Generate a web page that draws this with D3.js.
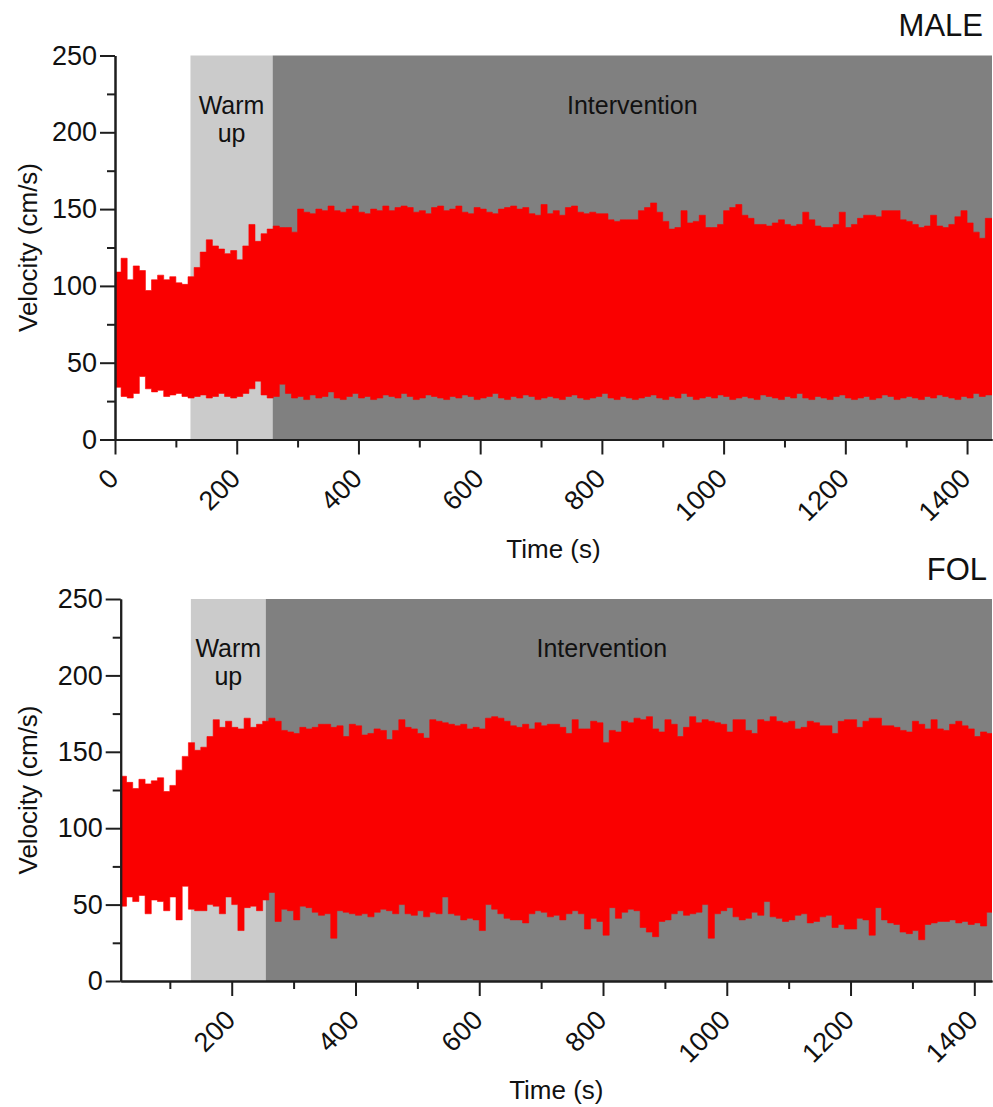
<!DOCTYPE html>
<html>
<head>
<meta charset="utf-8">
<script src="https://cdn.jsdelivr.net/npm/d3@7"></script>
<style>
  body { margin: 0; background: #fff; }
  text { font-family: "Liberation Sans", Arial, sans-serif; fill: #111; }
</style>
</head>
<body>
<script>
// Envelope of the velocity trace in 10 s bins (cm/s).
// MALE starts at t = 0 s, FOL at t = 20 s.
var binSeconds = 10;

var maleStart = 0;
var maleHigh = [
  109, 118, 104, 113, 110, 97, 104, 107, 104, 106, 102, 101,
  106, 112, 122, 130, 126, 124, 121, 123, 117, 126, 140, 129,
  134, 137, 139, 138, 138, 135, 150, 148, 147, 150, 149, 152,
  149, 148, 150, 152, 148, 147, 150, 149, 152, 149, 151, 152,
  151, 148, 149, 147, 151, 152, 149, 150, 152, 148, 147, 151,
  150, 148, 147, 150, 151, 152, 150, 151, 147, 146, 153, 147,
  149, 146, 151, 152, 148, 147, 148, 147, 147, 143, 142, 143,
  143, 143, 149, 151, 154, 148, 142, 137, 138, 149, 141, 142,
  146, 138, 138, 140, 149, 151, 153, 146, 144, 140, 140, 139,
  141, 143, 140, 139, 140, 148, 143, 139, 138, 138, 140, 148,
  138, 140, 144, 146, 146, 145, 149, 149, 149, 143, 142, 140,
  138, 139, 146, 139, 138, 140, 145, 149, 141, 135, 131, 144];
var maleLow = [
  34, 28, 27, 30, 41, 33, 31, 32, 28, 29, 30, 28, 27,
  28, 29, 27, 28, 30, 28, 27, 28, 30, 33, 38, 29, 27,
  28, 36, 30, 27, 28, 26, 29, 27, 28, 31, 27, 26, 28, 30, 27,
  28, 26, 27, 29, 28, 27, 30, 28, 26, 27, 29, 28, 27, 26, 28,
  27, 29, 28, 26, 27, 28, 30, 27, 26, 28, 27, 29, 28, 26, 27,
  28, 27, 26, 28, 29, 27, 26, 27, 28, 30, 27, 26, 28, 27, 26,
  27, 28, 29, 27, 26, 28, 27, 30, 28, 26, 27, 28, 27, 29, 28,
  26, 27, 28, 27, 26, 29, 28, 27, 26, 28, 27, 30, 27, 26, 28,
  27, 26, 28, 29, 27, 26, 27, 28, 26, 27, 29, 28, 26, 27, 28,
  27, 26, 28, 27, 29, 28, 27, 26, 28, 27, 30, 28, 29];

var folStart = 20;
var folHigh = [
  134, 130, 126, 132, 129, 131, 133, 124, 128, 138, 147, 156,
  151, 153, 160, 171, 166, 170, 166, 165, 172, 166, 168, 170,
  172, 170, 164, 163, 162, 166, 165, 166, 168, 168, 166, 167,
  160, 168, 167, 161, 162, 165, 164, 158, 164, 171, 166, 165,
  162, 159, 171, 170, 169, 168, 167, 168, 165, 166, 165, 172,
  173, 172, 170, 167, 166, 168, 165, 169, 167, 168, 168,
  166, 162, 171, 165, 165, 170, 169, 156, 164, 163, 170, 169,
  172, 171, 173, 165, 163, 171, 168, 160, 166, 173, 169, 171,
  170, 169, 168, 163, 171, 171, 164, 162, 171, 170, 173, 170,
  169, 170, 165, 166, 170, 169, 167, 167, 162, 170, 171, 171,
  166, 170, 172, 172, 167, 167, 166, 164, 163, 170, 168, 165,
  171, 165, 164, 168, 170, 167, 165, 160, 163, 162];
var folLow = [
  49, 55, 52, 56, 44, 53, 52, 46, 55, 40, 62, 47,
  46, 46, 50, 49, 44, 55, 50, 33, 48, 49, 46, 53,
  58, 39, 47, 46, 40, 49, 48, 45, 43, 44, 28, 46,
  45, 44, 43, 44, 42, 45, 47, 46, 44, 50, 44, 43,
  46, 42, 45, 44, 55, 44, 43, 40, 41, 40, 33, 50,
  47, 44, 41, 40, 40, 38, 44, 46, 45, 42, 43,
  40, 44, 46, 44, 34, 41, 39, 30, 48, 41, 45, 47,
  46, 35, 32, 29, 39, 40, 44, 46, 43, 44, 45, 50,
  28, 44, 46, 48, 42, 40, 41, 45, 43, 52, 42, 41,
  39, 40, 43, 44, 38, 39, 42, 43, 35, 37, 34, 34,
  41, 40, 30, 48, 40, 38, 37, 32, 31, 33, 27, 37,
  38, 39, 39, 40, 38, 39, 37, 38, 36, 45];

// Phases (s): warm-up start, intervention start
var malePhases = [124, 259];
var folPhases = [134, 255];

var yMajorTicks = [0, 50, 100, 150, 200, 250];
var yMinorTicks = [25, 75, 125, 175, 225];
var maleXMajor = [0, 200, 400, 600, 800, 1000, 1200, 1400];
var folXMajor = [200, 400, 600, 800, 1000, 1200, 1400];
var xMinor = [100, 300, 500, 700, 900, 1100, 1300];

var width = 993, height = 1107;
var red = '#fa0000';
var font = '"Liberation Sans", Arial, sans-serif';

var svg = d3.select('body').append('svg')
  .attr('width', width)
  .attr('height', height);

var panels = [
  { name: 'MALE', start: maleStart, high: maleHigh, low: maleLow, phases: malePhases,
    xMajor: maleXMajor, xDomain: [0, 1441], left: 115, top: 55.5, bottom: 439.5,
    titleX: 983, titleY: 36, interventionLabelT: 850 },
  { name: 'FOL', start: folStart, high: folHigh, low: folLow, phases: folPhases,
    xMajor: folXMajor, xDomain: [20.6, 1428.6], left: 120.7, top: 599, bottom: 981,
    titleX: 987, titleY: 580, interventionLabelT: 798 }
];

panels.forEach(function (p, pi) {
  var x = d3.scaleLinear().domain(p.xDomain).range([p.left, 992]);
  var y = d3.scaleLinear().domain([0, 250]).range([p.bottom, p.top]);
  var g = svg.append('g');

  // Phase bands
  g.append('rect')
    .attr('x', x(p.phases[0]))
    .attr('y', y(250))
    .attr('width', x(p.phases[1]) - x(p.phases[0]))
    .attr('height', y(0) - y(250))
    .attr('fill', '#cbcbcb');
  g.append('rect')
    .attr('x', x(p.phases[1]))
    .attr('y', y(250))
    .attr('width', x.range()[1] - x(p.phases[1]))
    .attr('height', y(0) - y(250))
    .attr('fill', '#808080');

  // Velocity trace envelope
  var pts = p.high.map(function (h, i) {
    return { t: p.start + i * binSeconds, hi: h, lo: p.low[i] };
  });
  var last = pts[pts.length - 1];
  pts.push({ t: p.xDomain[1], hi: last.hi, lo: last.lo });

  svg.append('clipPath').attr('id', 'clip' + pi)
    .append('rect')
    .attr('x', x.range()[0]).attr('y', y(250))
    .attr('width', x.range()[1] - x.range()[0])
    .attr('height', y(0) - y(250));

  var area = d3.area()
    .curve(d3.curveStepAfter)
    .x(function (d) { return x(d.t); })
    .y0(function (d) { return y(d.lo); })
    .y1(function (d) { return y(d.hi); });

  g.append('path')
    .datum(pts)
    .attr('clip-path', 'url(#clip' + pi + ')')
    .attr('d', area)
    .attr('fill', red)
    .attr('stroke', red)
    .attr('stroke-width', 0.6);

  // Phase labels
  var wx = (x(p.phases[0]) + x(p.phases[1])) / 2;
  g.append('text').attr('x', wx).attr('y', y(250) + 58)
    .attr('text-anchor', 'middle').style('font-size', '25px').text('Warm');
  g.append('text').attr('x', wx).attr('y', y(250) + 86)
    .attr('text-anchor', 'middle').style('font-size', '25px').text('up');
  g.append('text').attr('x', x(p.interventionLabelT)).attr('y', y(250) + 58)
    .attr('text-anchor', 'middle').style('font-size', '25px').text('Intervention');

  // Y axis
  var yMinor = g.append('g').attr('transform', 'translate(' + p.left + ',0)')
    .call(d3.axisLeft(y).tickValues(yMinorTicks).tickSize(8).tickSizeOuter(0).tickFormat(''));
  var yMajor = g.append('g').attr('transform', 'translate(' + p.left + ',0)')
    .call(d3.axisLeft(y).tickValues(yMajorTicks).tickSize(15).tickSizeOuter(0)
      .tickPadding(3).tickFormat(d3.format('d')));

  // X axis
  var xMinorAxis = g.append('g').attr('transform', 'translate(0,' + p.bottom + ')')
    .call(d3.axisBottom(x).tickValues(xMinor).tickSize(8).tickSizeOuter(0).tickFormat(''));
  var xMajorAxis = g.append('g').attr('transform', 'translate(0,' + p.bottom + ')')
    .call(d3.axisBottom(x).tickValues(p.xMajor).tickSize(15).tickSizeOuter(0)
      .tickFormat(d3.format('d')));

  [yMinor, yMajor, xMinorAxis, xMajorAxis].forEach(function (a) {
    a.selectAll('path, line').attr('stroke', '#1e1e1e').attr('stroke-width', 2);
    a.selectAll('text').attr('fill', '#111').style('font-size', '27px')
      .style('font-family', font);
  });

  xMajorAxis.selectAll('text')
    .attr('x', null).attr('y', null)
    .attr('dy', '0.35em')
    .attr('text-anchor', 'end')
    .attr('transform', 'translate(-2,34) rotate(-45)');

  // Axis titles
  g.append('text')
    .attr('transform', 'translate(37,' + (p.top + p.bottom) / 2 + ') rotate(-90)')
    .attr('text-anchor', 'middle').style('font-size', '26px')
    .text('Velocity (cm/s)');
  g.append('text')
    .attr('x', (x.range()[0] + x.range()[1]) / 2)
    .attr('y', p.bottom + 118)
    .attr('text-anchor', 'middle').style('font-size', '26px')
    .text('Time (s)');

  // Panel title
  g.append('text').attr('x', p.titleX).attr('y', p.titleY)
    .attr('text-anchor', 'end').style('font-size', '31px').text(p.name);
});
</script>
</body>
</html>
